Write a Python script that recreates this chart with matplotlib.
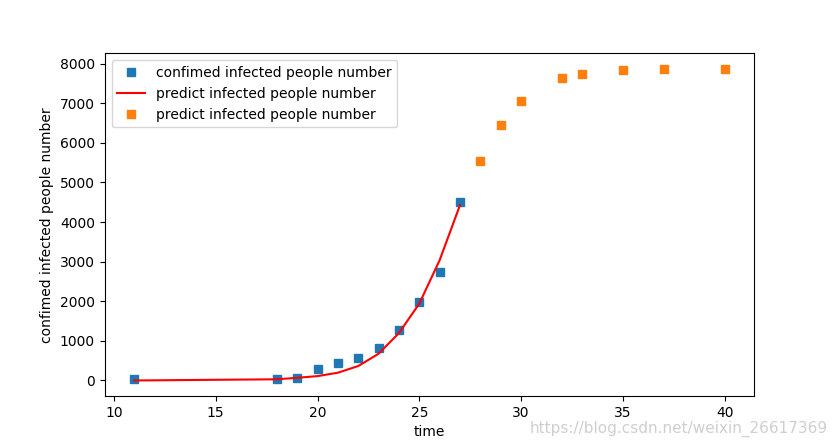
import matplotlib
matplotlib.use("Agg")
import matplotlib.pyplot as plt

confirmed_days = [11, 18, 19, 20, 21, 22, 23, 24, 25, 26, 27]
confirmed_counts = [41, 45, 62, 291, 440, 571, 830, 1287, 1975, 2744, 4515]

fit_counts = [0, 30, 67, 110, 196, 365, 675, 1198, 1941, 3038, 4430]

future_days = [28, 29, 30, 32, 33, 35, 37, 40]
future_counts = [5537, 6448, 7055, 7637, 7739, 7840, 7866, 7866]

fig = plt.figure(figsize=(8.38, 4.45), dpi=100)
ax = fig.add_subplot(111)
ax.plot(confirmed_days, confirmed_counts, 's', label='confimed infected people number')
ax.plot(confirmed_days, fit_counts, 'r', label='predict infected people number')
ax.plot(future_days, future_counts, 's', label='predict infected people number')
ax.set_xlabel('time')
ax.set_ylabel('confimed infected people number')
ax.legend(loc='upper left')

fig.text(0.988, 0.018, 'https://blog.csdn.net/weixin_26617369', ha='right', va='bottom',
         color='#cfcfcf', fontsize=11)

fig.savefig('out.png', dpi=100)
